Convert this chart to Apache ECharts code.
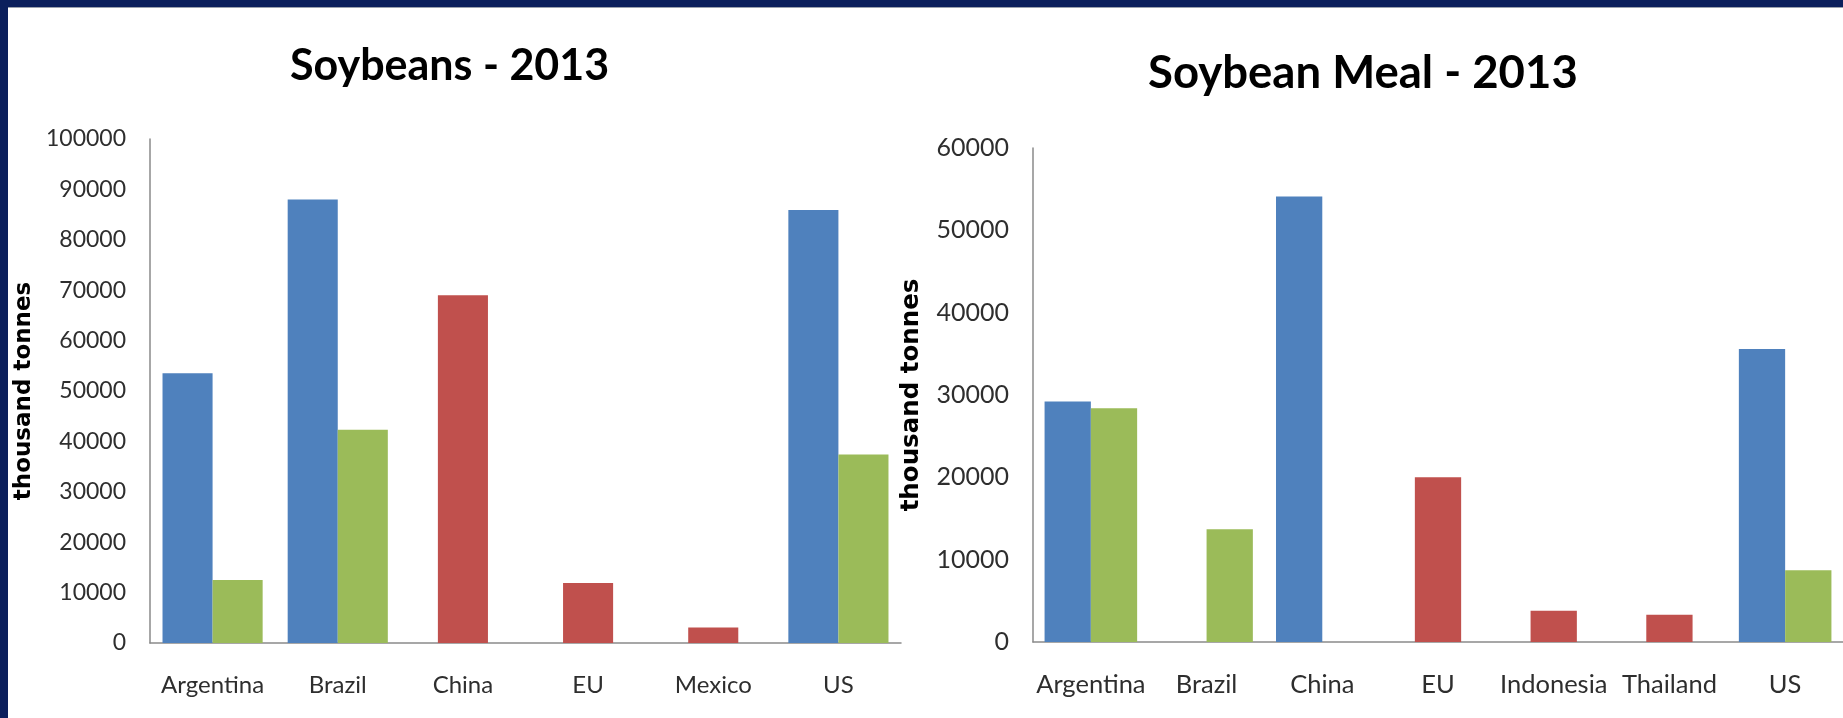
<!DOCTYPE html>
<html>
<head>
<meta charset="utf-8">
<script src="https://cdn.jsdelivr.net/npm/echarts@6/dist/echarts.min.js"></script>
<style>
  html, body { margin: 0; padding: 0; background: #ffffff; }
  #chart { width: 1843px; height: 718px; }
</style>
</head>
<body>
<div id="chart"></div>
<script>
// Soybeans, 2013 (thousand tonnes)
const beanCountries = ['Argentina', 'Brazil', 'China', 'EU', 'Mexico', 'US'];
const beanProduction = [53500, 88000, null, null, null, 85900];
const beanExports = [12500, 42300, null, null, null, 37400];
const beanImports = [null, null, 69000, 11900, 3100, null];
const beanTicks = [0, 10000, 20000, 30000, 40000, 50000, 60000, 70000, 80000, 90000, 100000];

// Soybean meal, 2013 (thousand tonnes)
const mealCountries = ['Argentina', 'Brazil', 'China', 'EU', 'Indonesia', 'Thailand', 'US'];
const mealProduction = [29200, null, 54100, null, null, null, 35600];
const mealExports = [28400, 13700, null, null, null, null, 8700];
const mealImports = [null, null, null, 20000, 3800, 3300, null];
const mealTicks = [0, 10000, 20000, 30000, 40000, 50000, 60000];

const BLUE = '#4F81BD';
const RED = '#C0504D';
const GREEN = '#9BBB59';
const AXIS_GREY = '#8a8a8a';
const LABEL_FONT = 'Lato, "Open Sans", sans-serif';
const TITLE_FONT = 'Lato, "Open Sans", sans-serif';
const NAME_FONT = '"DejaVu Sans", sans-serif';

function valueAxis(gridIndex, ticks, fontSize, nameSize, nameGap) {
  return {
    type: 'value',
    gridIndex: gridIndex,
    min: ticks[0],
    max: ticks[ticks.length - 1],
    interval: ticks[1] - ticks[0],
    name: 'thousand tonnes',
    nameLocation: 'middle',
    nameRotate: 90,
    nameGap: nameGap,
    nameTextStyle: { fontFamily: NAME_FONT, fontWeight: 'bold', fontSize: nameSize, color: '#000' },
    axisLine: { show: true, lineStyle: { color: AXIS_GREY, width: 1.5 } },
    axisTick: { show: false },
    splitLine: { show: false },
    axisLabel: {
      margin: 24,
      fontFamily: LABEL_FONT,
      fontSize: fontSize,
      color: '#2e2e2e',
      formatter: v => String(v)
    }
  };
}

function categoryAxis(gridIndex, cats, fontSize, visible) {
  return {
    type: 'category',
    gridIndex: gridIndex,
    data: cats,
    show: visible,
    axisLine: { show: visible, lineStyle: { color: AXIS_GREY, width: 1.5 } },
    axisTick: { show: false },
    axisLabel: {
      show: visible,
      margin: 30,
      interval: 0,
      fontFamily: LABEL_FONT,
      fontSize: fontSize,
      color: '#2e2e2e'
    }
  };
}

function bar(xIdx, yIdx, data, color) {
  return {
    type: 'bar',
    xAxisIndex: xIdx,
    yAxisIndex: yIdx,
    data: data,
    barWidth: '40%',
    barGap: '0%',
    itemStyle: { color: color },
    silent: true
  };
}

const chart = echarts.init(document.getElementById('chart'), null, { renderer: 'canvas' });

chart.setOption({
  animation: false,
  backgroundColor: '#ffffff',
  title: [
    {
      text: 'Soybeans - 2013',
      left: 285, top: 40,
      textStyle: { fontFamily: TITLE_FONT, fontWeight: 'bold', fontSize: 43, color: '#000' }
    },
    {
      text: 'Soybean Meal - 2013',
      left: 1143, top: 45,
      textStyle: { fontFamily: TITLE_FONT, fontWeight: 'bold', fontSize: 45.5, color: '#000' }
    }
  ],
  grid: [
    { left: 150, top: 139, width: 751, height: 504 },
    { left: 1033, top: 148, width: 819, height: 494 }
  ],
  xAxis: [
    categoryAxis(0, beanCountries, 24, true),
    categoryAxis(0, beanCountries, 24, false),
    categoryAxis(1, mealCountries, 25.5, true),
    categoryAxis(1, mealCountries, 25.5, false)
  ],
  yAxis: [
    valueAxis(0, beanTicks, 23, 23, 114),
    valueAxis(1, mealTicks, 25, 24.5, 109)
  ],
  series: [
    bar(0, 0, beanProduction, BLUE),
    bar(0, 0, beanExports, GREEN),
    bar(1, 0, beanImports, RED),
    bar(2, 1, mealProduction, BLUE),
    bar(2, 1, mealExports, GREEN),
    bar(3, 1, mealImports, RED)
  ],
  graphic: [
    // slide frame: navy band along the top and left edges
    { type: 'rect', left: 0, top: 0, shape: { width: 1843, height: 7 }, style: { fill: '#0b1f5c' }, z: 100 },
    { type: 'rect', left: 0, top: 7, shape: { width: 1843, height: 1 }, style: { fill: '#9aa0ad' }, z: 100 },
    { type: 'rect', left: 0, top: 0, shape: { width: 8, height: 718 }, style: { fill: '#0b1f5c' }, z: 100 }
  ]
});
</script>
</body>
</html>
